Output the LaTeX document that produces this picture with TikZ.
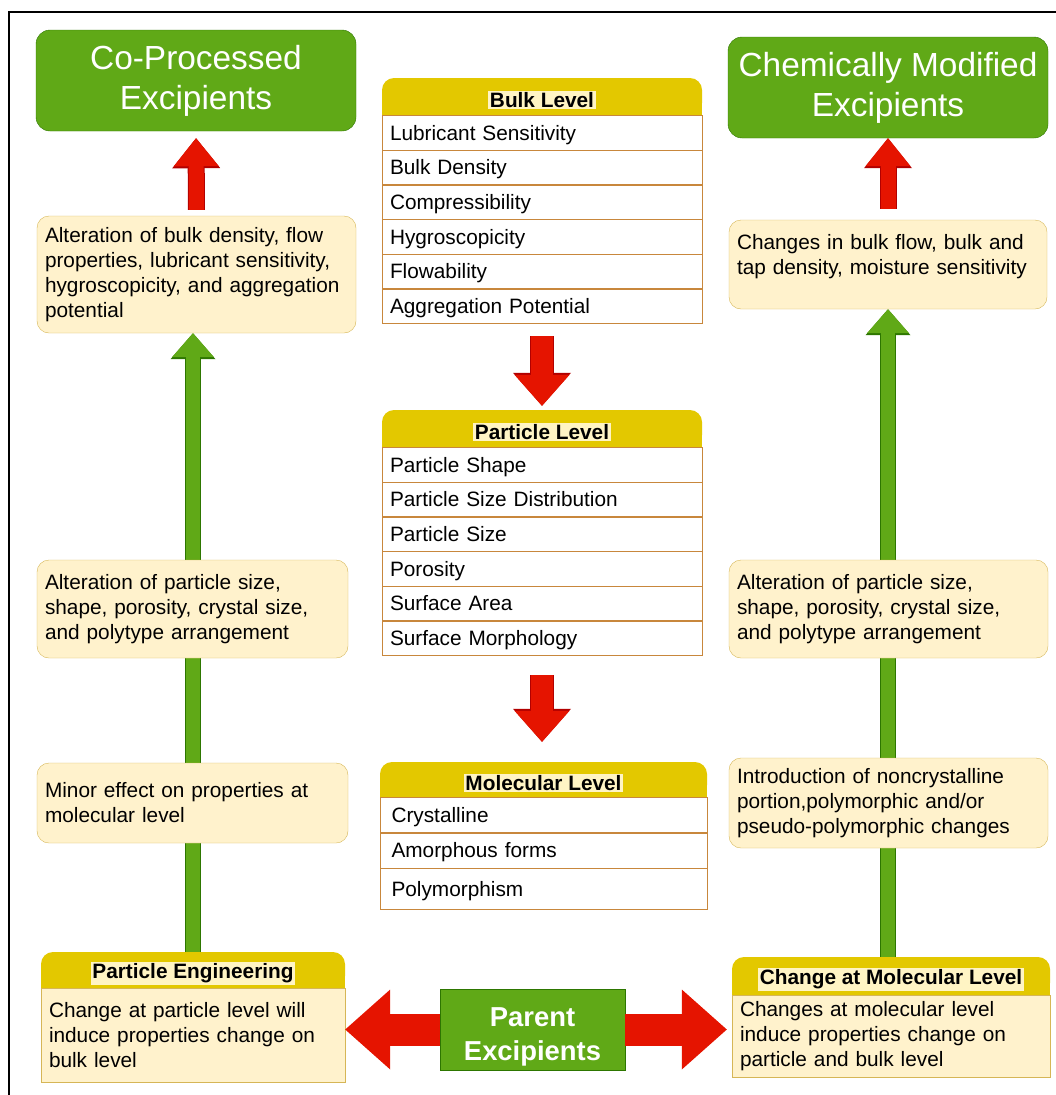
\documentclass[tikz,border=0pt]{standalone}
\usepackage{fontspec}
\setmainfont{Liberation Sans}
\usetikzlibrary{arrows.meta,positioning,backgrounds}
\definecolor{exgreen}{HTML}{60A917}
\definecolor{exgreenline}{HTML}{2D7600}
\definecolor{exred}{HTML}{E51400}
\definecolor{exredline}{HTML}{B20000}
\definecolor{hdrfill}{HTML}{E3C800}
\definecolor{notefill}{HTML}{FFF2CC}
\definecolor{noteline}{HTML}{D6B656}
\definecolor{tblline}{RGB}{200,135,60}
\definecolor{hlfill}{HTML}{FFF4C4}
\begin{document}
\begin{tikzpicture}[
  x=1pt,y=-1pt,
  every node/.style={font=\fontsize{20.8}{25}\selectfont},
  titlebox/.style={draw=exgreenline,fill=exgreen,rounded corners=14pt,minimum width=320pt,
                   minimum height=101pt,align=center,text=white,font=\fontsize{33.4}{40}\selectfont},
  parentbox/.style={draw=exgreenline,fill=exgreen,minimum width=185pt,minimum height=77pt,
                    align=center,text=white,font=\bfseries\fontsize{27.4}{34}\selectfont},
  notebox/.style={draw=noteline,fill=notefill,rounded corners=12pt,align=left,
                  inner xsep=8pt,text width=#1},
  notebody/.style={draw=noteline,fill=notefill,align=left,inner xsep=8pt,text width=#1},
  tblhdr/.style={fill=hdrfill,rounded corners=12pt,minimum width=#1,minimum height=37pt,
                 inner sep=0pt},
  hdrtext/.style={fill=hlfill,inner sep=1.5pt,yshift=-3.5pt,
                  font=\bfseries\fontsize{20.8}{24}\selectfont},
  rowbox/.style={draw=tblline,fill=white,minimum width=#1,minimum height=34.3pt,
                 text width=304pt,text depth=0pt,align=left,inner xsep=8pt,inner ysep=0pt},
  rowbox/.default=320pt,
  redup/.style={exred,line width=15pt,-{Triangle[width=45pt,length=28pt,line width=0pt]},
                preaction={draw=exredline,line width=17pt,
                           -{Triangle[width=48pt,length=30pt,line width=0pt]}}},
  reddown/.style={exred,line width=22pt,-{Triangle[width=55pt,length=31pt,line width=0pt]},
                  preaction={draw=exredline,line width=24pt,
                             -{Triangle[width=58pt,length=33pt,line width=0pt]}}},
  redside/.style={exred,line width=32pt,-{Triangle[width=80pt,length=45pt,line width=0pt]}},
  greenup/.style={exgreen,line width=14pt,-{Triangle[width=42pt,length=24pt,line width=0pt]},
                  preaction={draw=exgreenline,line width=16pt,
                             -{Triangle[width=45pt,length=26pt,line width=0pt]}}},
]
  \useasboundingbox (0,0) rectangle (1056,1095);
  \draw[line width=1.2pt] (9,1095) -- (9,12) -- (1056,12);

  % Excipient types
  \node[titlebox] (coproc) at (196,80.5) {Co-Processed\\Excipients};
  \node[titlebox] (chem) at (888,87.5) {Chemically Modified\\Excipients};

  % Left column notes
  \node[notebox=303pt,minimum height=117pt] (conote) at (196.5,274.5)
    {Alteration of bulk density, flow\\properties, lubricant sensitivity,\\hygroscopicity, and aggregation\\potential};
  \node[notebox=295pt,minimum height=98pt] (partnote) at (192.5,609)
    {Alteration of particle size,\\shape, porosity, crystal size,\\and polytype arrangement};
  \node[notebox=295pt,minimum height=80pt] (molnote) at (192.5,803)
    {Minor effect on properties at\\molecular level};

  % Right column notes
  \node[notebox=302pt,minimum height=89pt,text depth=45pt] (chemnote) at (888,264.5)
    {Changes in bulk flow, bulk and\\tap density, moisture sensitivity};
  \node[notebox=303pt,minimum height=98pt] (rpartnote) at (888.5,609)
    {Alteration of particle size,\\shape, porosity, crystal size,\\and polytype arrangement};
  \node[notebox=303pt,minimum height=90pt] (rmolnote) at (888.5,803)
    {Introduction of noncrystalline\\portion,polymorphic and/or\\pseudo-polymorphic changes};

  % Particle engineering
  \node[tblhdr=304pt,minimum height=36pt] (enghdr) at (193,970) {};
  \fill[hdrfill] (enghdr.west) rectangle (enghdr.south east);
  \node[hdrtext] (engtitle) at (enghdr) {Particle Engineering};
  \node[notebody=288pt,minimum height=94pt,below=0pt of enghdr] (engbody)
    {Change at particle level will\\induce properties change on\\bulk level};

  % Change at molecular level
  \node[tblhdr=318pt,minimum height=38pt] (chghdr) at (891,976) {};
  \fill[hdrfill] (chghdr.west) rectangle (chghdr.south east);
  \node[hdrtext] (chgtitle) at (chghdr) {Change at Molecular Level};
  \node[notebody=302pt,minimum height=82pt,below=0pt of chghdr] (chgbody)
    {Changes at molecular level\\induce properties change on\\particle and bulk level};

  % Parent
  \node[parentbox,text height=68pt,text depth=6pt] (parent) at (532.5,1029.5) {Parent\\Excipients};

  % Bulk level
  \node[tblhdr=320pt] (bulkhdr) at (542,96.5) {};
  \fill[hdrfill] (bulkhdr.west) rectangle (bulkhdr.south east);
  \node[hdrtext] (bulktitle) at (bulkhdr) {Bulk Level};
  \node[rowbox,below=0pt of bulkhdr] (bulk1) {Lubricant Sensitivity};
  \node[rowbox,below=0pt of bulk1] (bulk2) {Bulk Density};
  \node[rowbox,below=0pt of bulk2] (bulk3) {Compressibility};
  \node[rowbox,below=0pt of bulk3] (bulk4) {Hygroscopicity};
  \node[rowbox,below=0pt of bulk4] (bulk5) {Flowability};
  \node[rowbox,below=0pt of bulk5] (bulk6) {Aggregation Potential};

  % Particle level
  \node[tblhdr=320pt] (parthdr) at (542,428.5) {};
  \fill[hdrfill] (parthdr.west) rectangle (parthdr.south east);
  \node[hdrtext] (parttitle) at (parthdr) {Particle Level};
  \node[rowbox,below=0pt of parthdr] (part1) {Particle Shape};
  \node[rowbox,below=0pt of part1] (part2) {Particle Size Distribution};
  \node[rowbox,below=0pt of part2] (part3) {Particle Size};
  \node[rowbox,below=0pt of part3] (part4) {Porosity};
  \node[rowbox,below=0pt of part4] (part5) {Surface Area};
  \node[rowbox,below=0pt of part5] (part6) {Surface Morphology};

  % Molecular level
  \node[tblhdr=327pt,minimum height=35pt] (molhdr) at (543.5,779.5) {};
  \fill[hdrfill] (molhdr.west) rectangle (molhdr.south east);
  \node[hdrtext] (moltitle) at (molhdr) {Molecular Level};
  \node[rowbox=327pt,minimum height=35pt,below=0pt of molhdr] (mol1) {Crystalline};
  \node[rowbox=327pt,minimum height=35pt,below=0pt of mol1] (mol2) {Amorphous forms};
  \node[rowbox=327pt,minimum height=41pt,below=0pt of mol2] (mol3) {Polymorphism};

  % Arrows
  \draw[redup,shorten <=6pt,shorten >=7pt] (conote.north) -- (coproc.south);
  \draw[redup,shorten <=11pt] (chemnote.north) -- (chem.south);
  \draw[reddown,shorten <=13pt,shorten >=4pt] (bulk6.south) -- (parthdr.north);
  \draw[reddown,shorten <=20pt,shorten >=20pt] (part6.south) -- (part6.south |- molhdr.north);
  \draw[redside] (parent.west) -- (parent.west -| engbody.east);
  \draw[redside,shorten >=5pt] (parent.east) -- (parent.east -| chgbody.west);
  \begin{scope}[on background layer]
    \draw[greenup] (enghdr.north) -- (enghdr.north |- conote.south);
    \draw[greenup] (chemnote.south |- chghdr.north) -- (chemnote.south);
  \end{scope}
\end{tikzpicture}
\end{document}
